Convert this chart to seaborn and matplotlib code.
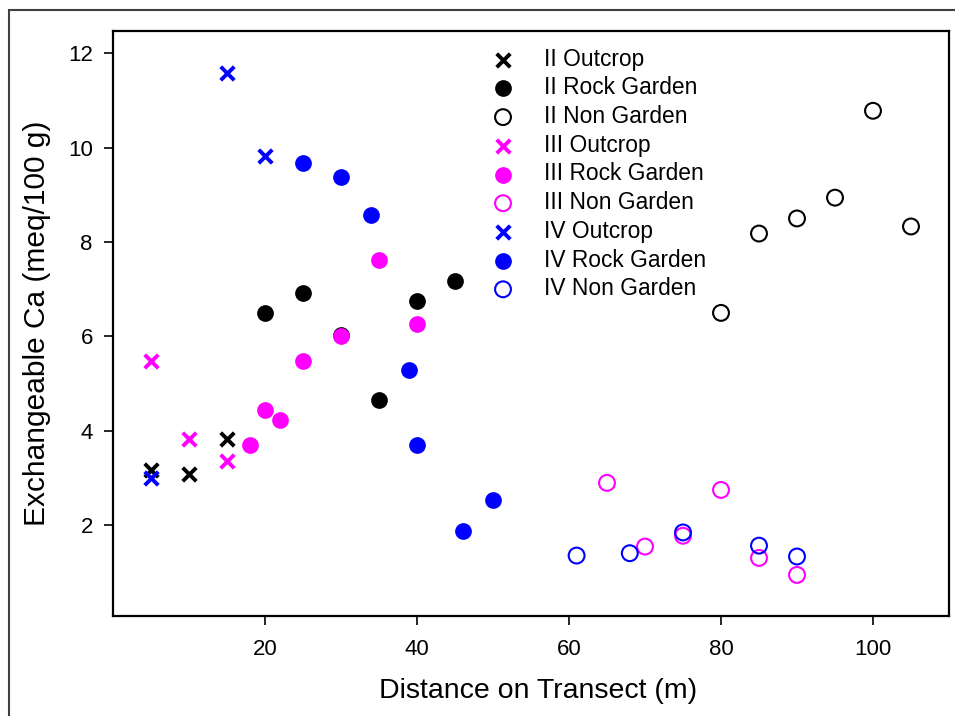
import matplotlib
matplotlib.use("Agg")
import matplotlib.pyplot as plt
import seaborn as sns
import pandas as pd
from matplotlib.patches import Rectangle

# ---- data ----
ii_out_x = [5, 10, 15]
ii_out_y = [3.17, 3.09, 3.82]
ii_rg_x = [20, 25, 30, 35, 40, 45]
ii_rg_y = [6.49, 6.92, 6.03, 4.66, 6.75, 7.18]
ii_ng_x = [80, 85, 90, 95, 100, 105]
ii_ng_y = [6.50, 8.18, 8.50, 8.94, 10.78, 8.33]

iii_out_x = [5, 10, 15]
iii_out_y = [5.49, 3.83, 3.36]
iii_rg_x = [18, 20, 22, 25, 30, 35, 40]
iii_rg_y = [3.71, 4.45, 4.24, 5.48, 6.00, 7.62, 6.27]
iii_ng_x = [65, 70, 75, 80, 85, 90]
iii_ng_y = [2.90, 1.55, 1.78, 2.75, 1.31, 0.95]

iv_out_x = [5, 15, 20]
iv_out_y = [3.00, 11.59, 9.83]
iv_rg_x = [25, 30, 34, 39, 40, 46, 50]
iv_rg_y = [9.68, 9.38, 8.57, 5.28, 3.71, 1.88, 2.54]
iv_ng_x = [61, 68, 75, 85, 90]
iv_ng_y = [1.36, 1.41, 1.85, 1.57, 1.34]

labels = ["II Outcrop", "II Rock Garden", "II Non Garden",
          "III Outcrop", "III Rock Garden", "III Non Garden",
          "IV Outcrop", "IV Rock Garden", "IV Non Garden"]
xs = [ii_out_x, ii_rg_x, ii_ng_x, iii_out_x, iii_rg_x, iii_ng_x, iv_out_x, iv_rg_x, iv_ng_x]
ys = [ii_out_y, ii_rg_y, ii_ng_y, iii_out_y, iii_rg_y, iii_ng_y, iv_out_y, iv_rg_y, iv_ng_y]
colors = ["black", "black", "black", "#ff00ff", "#ff00ff", "#ff00ff", "#0000ff", "#0000ff", "#0000ff"]
kinds = ["x", "filled", "open"] * 3

sns.set_theme(style="white")
plt.rcParams["font.family"] = ["Liberation Sans", "DejaVu Sans"]
plt.rcParams["text.color"] = "black"
plt.rcParams["axes.labelcolor"] = "black"
plt.rcParams["xtick.color"] = "black"
plt.rcParams["ytick.color"] = "black"

fig = plt.figure(figsize=(9.55, 7.16), dpi=100)
ax = fig.add_axes([113 / 955, 1 - 616 / 716, (949 - 113) / 955, (616 - 31) / 716])

for lab, x, y, c, k in zip(labels, xs, ys, colors, kinds):
    df = pd.DataFrame({"x": x, "y": y})
    if k == "x":
        sns.scatterplot(data=df, x="x", y="y", ax=ax, marker="x", color=c,
                        s=95, linewidth=2.8, label=lab, zorder=3)
    elif k == "filled":
        sns.scatterplot(data=df, x="x", y="y", ax=ax, marker="o", color=c,
                        edgecolor=c, s=145, linewidth=0, label=lab, zorder=3)
    else:
        sns.scatterplot(data=df, x="x", y="y", ax=ax, marker="o", facecolor="none",
                        edgecolor=c, s=130, linewidth=1.5, label=lab, zorder=3)

ax.set_xlim(0, 110)
ax.set_ylim(0.08, 12.47)
ax.set_xticks([20, 40, 60, 80, 100])
ax.set_yticks([2, 4, 6, 8, 10, 12])
ax.tick_params(axis="both", which="both", direction="out", length=6.5, width=1.2,
               color="black", labelcolor="black", labelsize=16, pad=8, left=True, bottom=True)
ax.tick_params(axis="x", pad=10)
for sp in ax.spines.values():
    sp.set_color("black")
    sp.set_linewidth(1.6)
ax.set_xlabel("Distance on Transect (m)", fontsize=20.5)
ax.xaxis.set_label_coords((538 - 113) / 836, -0.106)
ax.set_ylabel("Exchangeable Ca (meq/100 g)", fontsize=21.5, labelpad=12)

leg = ax.legend(loc="upper left", bbox_to_anchor=(0.442, 0.987), frameon=False,
                fontsize=16.4, handlelength=1.0, handletextpad=1.3,
                labelspacing=0.25, borderaxespad=0.0)
for t in leg.get_texts():
    t.set_color("black")

fig.patches.append(Rectangle((9 / 955, -0.05), 1.2, 1 - 10 / 716 + 0.05,
                             transform=fig.transFigure, fill=False,
                             edgecolor="#404040", linewidth=1.5, zorder=0))

fig.savefig("out.png", dpi=100)
